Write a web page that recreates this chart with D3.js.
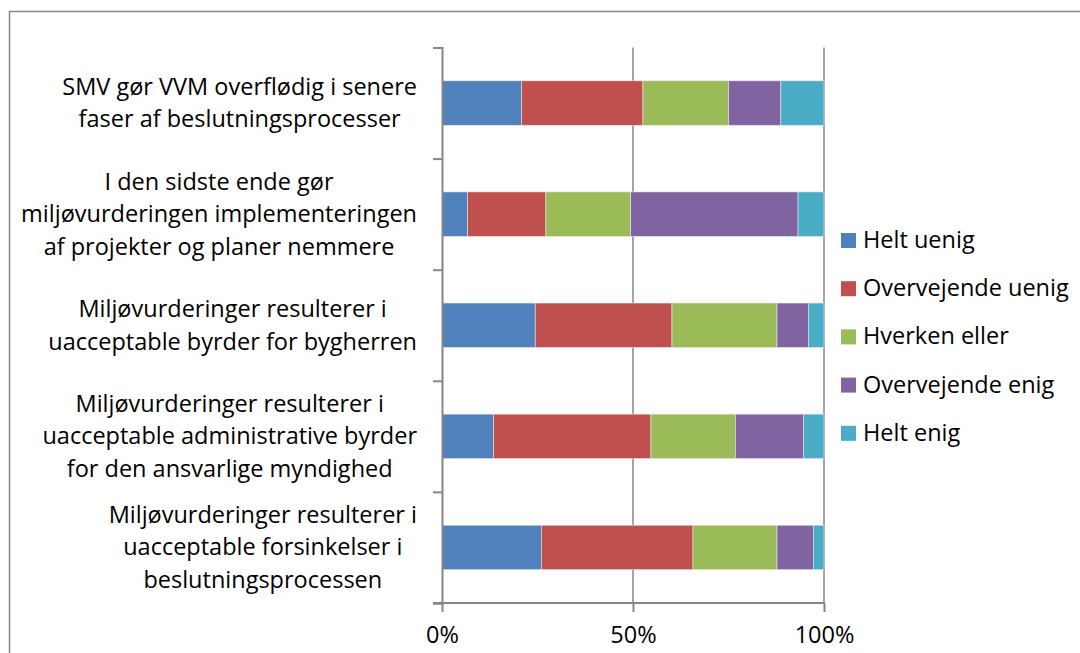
<!DOCTYPE html>
<html>
<head>
<meta charset="utf-8">
<script src="https://cdn.jsdelivr.net/npm/d3@7"></script>
<style>
  body { margin: 0; background: #fff; }
  svg { display: block; font-family: "Open Sans", sans-serif; }
</style>
</head>
<body>
<svg id="chart" width="1080" height="653"></svg>
<script>
// categories, top to bottom, one entry per line of the label
var categories = [
  ["SMV gør VVM overflødig i senere", "faser af beslutningsprocesser"],
  ["I den sidste ende gør", "miljøvurderingen implementeringen", "af projekter og planer nemmere"],
  ["Miljøvurderinger resulterer i", "uacceptable byrder for bygherren"],
  ["Miljøvurderinger resulterer i", "uacceptable administrative byrder", "for den ansvarlige myndighed"],
  ["Miljøvurderinger resulterer i", "uacceptable forsinkelser i", "beslutningsprocessen"]
];

var seriesNames = ["Helt uenig", "Overvejende uenig", "Hverken eller", "Overvejende enig", "Helt enig"];
var colors = ["#4f81bd", "#c0504d", "#9bbb59", "#8064a2", "#4bacc6"];

// percent per category (same order as categories)
var heltUenig        = [20.8,  6.7, 24.4, 13.5, 26.0];
var overvejendeUenig = [31.8, 20.5, 35.8, 41.2, 39.7];
var hverkenEller     = [22.4, 22.2, 27.5, 22.1, 22.0];
var overvejendeEnig  = [13.7, 43.8,  8.2, 17.8,  9.5];
var heltEnig         = [11.3,  6.8,  4.1,  5.4,  2.8];

var xTicks = [0, 0.5, 1];
var xTickLabels = ["0%", "50%", "100%"];

var seriesValues = [heltUenig, overvejendeUenig, hverkenEller, overvejendeEnig, heltEnig];

// build table for d3.stack
var rows = categories.map(function(c, i) {
  var r = { id: i };
  seriesNames.forEach(function(s, j) { r[s] = seriesValues[j][i]; });
  return r;
});

var stacked = d3.stack()
  .keys(seriesNames)
  .offset(d3.stackOffsetExpand)(rows);

var svg = d3.select("#chart");
var axisColor = "#868686";
var fontSize = "23.5px";

// outer frame of the chart (runs off right and bottom)
svg.append("rect")
  .attr("x", 9.5).attr("y", 11.5)
  .attr("width", 1200).attr("height", 800)
  .attr("fill", "none")
  .attr("stroke", axisColor)
  .attr("stroke-width", 1.5);

var plotTop = 47.5, plotBottom = 603, plotLeft = 442, plotRight = 824;

var x = d3.scaleLinear().domain([0, 1]).range([plotLeft, plotRight]);
var y = d3.scaleBand()
  .domain(d3.range(categories.length))
  .range([plotTop, plotBottom])
  .paddingInner(0.6)
  .paddingOuter(0.3);

// vertical gridlines
svg.append("g")
  .selectAll("line")
  .data(xTicks.slice(1))
  .enter()
  .append("line")
  .attr("x1", d => x(d)).attr("x2", d => x(d))
  .attr("y1", plotTop).attr("y2", plotBottom)
  .attr("stroke", axisColor)
  .attr("stroke-width", 1.5);

// bars
var layer = svg.append("g")
  .selectAll("g")
  .data(stacked)
  .enter()
  .append("g")
  .attr("fill", (d, i) => colors[i]);

layer.selectAll("rect")
  .data(d => d)
  .enter()
  .append("rect")
  .attr("x", d => x(d[0]))
  .attr("width", d => x(d[1]) - x(d[0]))
  .attr("y", (d, i) => y(i))
  .attr("height", y.bandwidth())
  .attr("stroke", "#e6e6e6")
  .attr("stroke-width", 0.6);

// category axis: ticks sit between the bands
var yEdge = d3.scaleLinear().domain([0, categories.length]).range([plotTop, plotBottom]);
var yAxis = svg.append("g")
  .attr("transform", "translate(" + plotLeft + ",0)")
  .call(d3.axisLeft(yEdge).tickValues(d3.range(categories.length + 1)).tickSize(9).tickFormat(""));
yAxis.select(".domain").attr("stroke", axisColor).attr("stroke-width", 2);
yAxis.selectAll(".tick line").attr("stroke", axisColor).attr("stroke-width", 2);

// value axis
var xAxis = svg.append("g")
  .attr("transform", "translate(0," + plotBottom + ")")
  .call(d3.axisBottom(x).tickValues(xTicks).tickSize(9).tickPadding(14)
    .tickFormat((d, i) => xTickLabels[i]));
xAxis.select(".domain").attr("stroke", axisColor).attr("stroke-width", 2)
  .attr("d", "M" + (plotLeft - 9) + ",0H" + plotRight);
xAxis.selectAll(".tick line").attr("stroke", axisColor).attr("stroke-width", 2);
xAxis.selectAll("text")
  .attr("fill", "#000")
  .style("font-family", "'Open Sans', sans-serif")
  .style("font-size", fontSize);

// category labels: block right-aligned at x=417, lines centred in block
var lineH = 32.5;
categories.forEach(function(lines, i) {
  var cy = y(i) + y.bandwidth() / 2;
  var g = svg.append("g");
  var texts = g.selectAll("text")
    .data(lines)
    .enter()
    .append("text")
    .attr("y", (d, k) => cy + 8 + (k - (lines.length - 1) / 2) * lineH)
    .attr("text-anchor", "middle")
    .style("font-size", fontSize)
    .attr("fill", "#000")
    .text(d => d);
  var w = d3.max(texts.nodes(), n => n.getComputedTextLength());
  texts.attr("x", 417 - w / 2);
});

// legend
var legend = svg.append("g")
  .selectAll("g")
  .data(seriesNames)
  .enter()
  .append("g")
  .attr("transform", (d, i) => "translate(841," + (233 + i * 48.2) + ")");

legend.append("rect")
  .attr("width", 15).attr("height", 15)
  .attr("fill", (d, i) => colors[i]);

legend.append("text")
  .attr("x", 22).attr("y", 15)
  .style("font-size", fontSize)
  .attr("fill", "#000")
  .text(d => d);
</script>
</body>
</html>
